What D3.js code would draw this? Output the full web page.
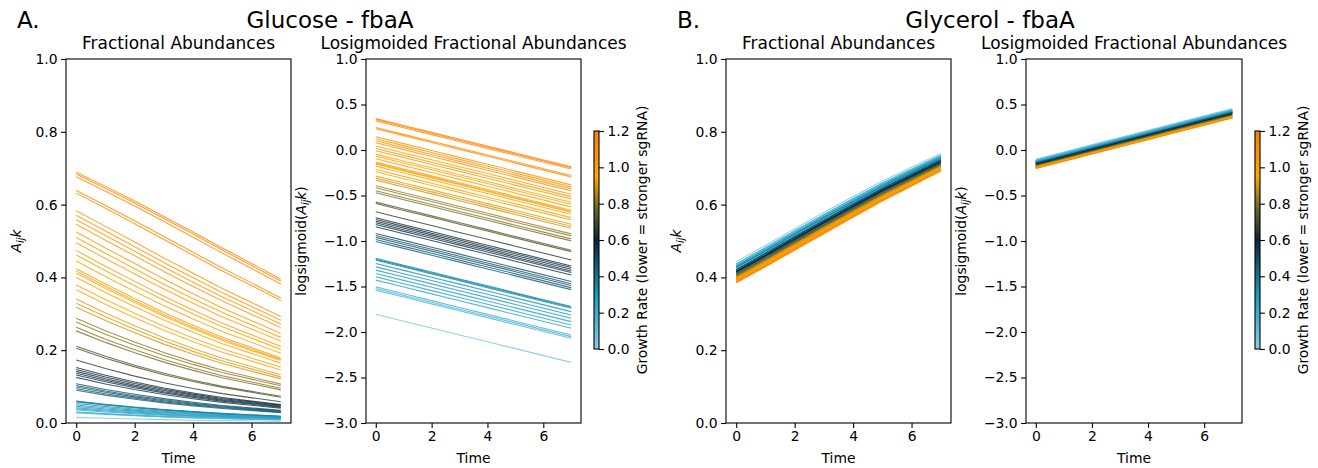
<!DOCTYPE html>
<html>
<head>
<meta charset="utf-8">
<script src="https://cdn.jsdelivr.net/npm/d3@7"></script>
<style>
  body { margin: 0; background: #fff; }
  text { font-family: "DejaVu Sans", sans-serif; fill: #000; }
</style>
</head>
<body>
<svg id="fig" width="1318" height="468"></svg>
<script>
// Sampling times and axis ticks
const times = [0, 1, 2, 3, 4, 5, 7];
const timeTicks = [0, 2, 4, 6];
const fracTicks = [0, 0.2, 0.4, 0.6, 0.8, 1.0];
const logitTicks = [1.0, 0.5, 0, -0.5, -1.0, -1.5, -2.0, -2.5, -3.0];
const rateTicks = [0, 0.2, 0.4, 0.6, 0.8, 1.0, 1.2];

// Glucose: per-guide growth rate and log-odds abundance at time 0
const glucoseRate = [1.18, 1.17, 1.15, 1.13, 1.12, 1.08, 1.07, 1.06, 1.05, 1.04, 1.03, 1.02, 1.00, 0.99, 0.98,
  1.00, 0.99, 0.98, 0.97, 0.96, 0.95, 0.92, 0.91, 0.90, 0.83, 0.82, 0.80, 0.79, 0.73, 0.72, 0.66,
  0.61, 0.60, 0.59, 0.58, 0.57, 0.56, 0.50, 0.49, 0.48, 0.47, 0.46, 0.36, 0.35, 0.35, 0.33, 0.31,
  0.30, 0.28, 0.27, 0.25, 0.18, 0.17, 0.16, 0.05];
const glucoseLogit0 = [0.345, 0.335, 0.320, 0.248, 0.234, 0.146, 0.124, 0.102, 0.080, 0.043, 0.017, -0.008, -0.045, -0.067, -0.096,
  -0.133, -0.145, -0.155, -0.177, -0.214, -0.239, -0.287, -0.309, -0.331, -0.393, -0.415, -0.448, -0.470, -0.573, -0.588, -0.679,
  -0.745, -0.763, -0.782, -0.800, -0.818, -0.844, -0.917, -0.940, -0.960, -0.983, -1.005, -1.190, -1.200, -1.210, -1.247, -1.284,
  -1.320, -1.357, -1.394, -1.430, -1.504, -1.522, -1.540, -1.805];
// Common drift of log-odds over time (glucose)
const glucoseShift = [0, -0.076, -0.151, -0.227, -0.302, -0.378, -0.529];

// Glycerol: per-guide growth rate and log-odds abundance at time 0
const glycerolRate = glucoseRate;
const glycerolLogit0 = [-0.203, -0.200, -0.199, -0.196, -0.197, -0.192, -0.191, -0.190, -0.188, -0.189, -0.187, -0.187, -0.185, -0.184, -0.183,
  -0.186, -0.184, -0.182, -0.182, -0.181, -0.180, -0.178, -0.177, -0.176, -0.170, -0.169, -0.167, -0.166, -0.161, -0.160, -0.155,
  -0.151, -0.150, -0.149, -0.148, -0.147, -0.146, -0.141, -0.140, -0.139, -0.138, -0.137, -0.129, -0.128, -0.127, -0.126, -0.124,
  -0.123, -0.122, -0.121, -0.119, -0.113, -0.112, -0.110, -0.100];
// Common drift of log-odds over time (glycerol)
const glycerolShift = [0, 0.079, 0.159, 0.238, 0.317, 0.397, 0.555];

// Growth-rate colour map
const rateStops = [0, 0.3, 0.6, 0.78, 0.95, 1.2];
const rateColors = ["#87ceeb", "#1b9ac2", "#0a2535", "#6e6a26", "#ffa500", "#ff8000"];
const rateColor = d3.scaleLinear().domain(rateStops).range(rateColors).clamp(true);

const svg = d3.select("#fig");
const TOP = 59, BOTTOM = 423;

function buildSeries(logit0, shift) {
  return logit0.map(v0 => times.map((t, k) => {
    const v = v0 + shift[k];
    return { t: t, logit: v, frac: 1 / (1 + Math.pow(10, -v)) };
  }));
}

function yLabel(g, x, y, logForm) {
  const t = g.append("text")
    .attr("transform", `translate(${x},${y}) rotate(-90)`)
    .attr("text-anchor", "middle")
    .attr("font-size", 13.9);
  if (logForm) t.append("tspan").text("logsigmoid(");
  t.append("tspan").attr("font-style", "italic").text("A");
  t.append("tspan").attr("font-style", "italic").attr("font-size", 9.7).attr("dy", 3).text("ij");
  t.append("tspan").attr("font-style", "italic").attr("dy", -3).text("k");
  if (logForm) t.append("tspan").text(")");
}

function panel(x0, x1, series, rates, key, domain, ticks, title, ylabX) {
  const g = svg.append("g");
  const x = d3.scaleLinear().domain([-0.35, 7.35]).range([x0, x1]);
  const y = d3.scaleLinear().domain(domain).range([BOTTOM, TOP]);
  const line = d3.line().x(d => x(d.t)).y(d => y(d[key]));

  g.append("g").selectAll("path").data(series).join("path")
    .attr("d", line)
    .attr("fill", "none")
    .attr("stroke", (d, i) => rateColor(rates[i]))
    .attr("stroke-width", 1.1)
    .attr("stroke-opacity", 0.8);

  const xa = g.append("g").attr("transform", `translate(0,${BOTTOM})`)
    .call(d3.axisBottom(x).tickValues(timeTicks).tickSize(4.9).tickPadding(3.5).tickFormat(d3.format("d")));
  const ya = g.append("g").attr("transform", `translate(${x0},0)`)
    .call(d3.axisLeft(y).tickValues(ticks).tickSize(4.9).tickPadding(3.5).tickFormat(d3.format(".1f")));
  [xa, ya].forEach(a => {
    a.select(".domain").remove();
    a.selectAll("line").attr("stroke", "#000").attr("stroke-width", 1.1);
    a.selectAll("text").attr("font-size", 13.9).attr("font-family", "DejaVu Sans").attr("fill", "#000");
  });

  g.append("rect").attr("x", x0).attr("y", TOP).attr("width", x1 - x0).attr("height", BOTTOM - TOP)
    .attr("fill", "none").attr("stroke", "#000").attr("stroke-width", 1.1);

  g.append("text").attr("x", (x0 + x1) / 2).attr("y", 49).attr("text-anchor", "middle")
    .attr("font-size", 17).text(title);
  g.append("text").attr("x", (x0 + x1) / 2).attr("y", 463).attr("text-anchor", "middle")
    .attr("font-size", 13.9).text("Time");
  yLabel(g, ylabX, 241, key === "logit");
}

function colorbar(cx, id) {
  const top = 131, bottom = 349, w = 5;
  const s = d3.scaleLinear().domain([0, 1.2]).range([bottom, top]);
  const grad = svg.append("defs").append("linearGradient").attr("id", id)
    .attr("x1", 0).attr("y1", 1).attr("x2", 0).attr("y2", 0);
  d3.range(0, 1.2001, 0.05).forEach(v => {
    grad.append("stop").attr("offset", v / 1.2).attr("stop-color", rateColor(v));
  });
  svg.append("rect").attr("x", cx).attr("y", top).attr("width", w).attr("height", bottom - top)
    .attr("fill", `url(#${id})`);
  const ax = svg.append("g").attr("transform", `translate(${cx + w},0)`)
    .call(d3.axisRight(s).tickValues(rateTicks).tickSize(4.9).tickPadding(3.5).tickFormat(d3.format(".1f")));
  ax.select(".domain").remove();
  ax.selectAll("line").attr("stroke", "#000").attr("stroke-width", 1.1);
  ax.selectAll("text").attr("font-size", 13.9).attr("font-family", "DejaVu Sans").attr("fill", "#000");
  svg.append("rect").attr("x", cx).attr("y", top).attr("width", w).attr("height", bottom - top)
    .attr("fill", "none").attr("stroke", "#000").attr("stroke-width", 1.1);
  svg.append("text").attr("transform", `translate(${cx + 53},${(top + bottom) / 2}) rotate(-90)`)
    .attr("text-anchor", "middle").attr("font-size", 13.9)
    .text("Growth Rate (lower = stronger sgRNA)");
}

const gluc = buildSeries(glucoseLogit0, glucoseShift);
const glyc = buildSeries(glycerolLogit0, glycerolShift);

panel(66, 291, gluc, glucoseRate, "frac", [0, 1], fracTicks, "Fractional Abundances", 21);
panel(366, 581, gluc, glucoseRate, "logit", [-3, 1], logitTicks, "Losigmoided Fractional Abundances", 306);
colorbar(594, "cb1");
panel(726, 951, glyc, glycerolRate, "frac", [0, 1], fracTicks, "Fractional Abundances", 681);
panel(1026, 1242, glyc, glycerolRate, "logit", [-3, 1], logitTicks, "Losigmoided Fractional Abundances", 966);
colorbar(1255, "cb2");

// Figure headings
svg.append("text").attr("x", 17).attr("y", 28).attr("font-size", 23).text("A.");
svg.append("text").attr("x", 330).attr("y", 28).attr("text-anchor", "middle").attr("font-size", 23).text("Glucose - fbaA");
svg.append("text").attr("x", 677).attr("y", 28).attr("font-size", 23).text("B.");
svg.append("text").attr("x", 990).attr("y", 28).attr("text-anchor", "middle").attr("font-size", 23).text("Glycerol - fbaA");
</script>
</body>
</html>
